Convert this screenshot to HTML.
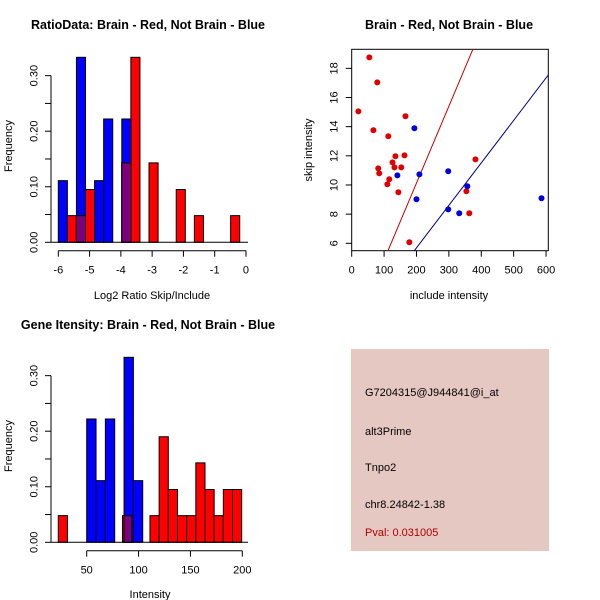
<!DOCTYPE html>
<html><head><meta charset="utf-8">
<style>
body{margin:0;background:#fff;}
svg{display:block;font-family:"Liberation Sans",Arial,sans-serif;}
</style></head>
<body>
<svg id="c" width="600" height="600" viewBox="0 0 600 600" xmlns="http://www.w3.org/2000/svg">
<rect width="600" height="600" fill="#fff"/>
<text x="148" y="29" font-size="12.5" font-weight="bold" text-anchor="middle">RatioData: Brain - Red, Not Brain - Blue</text>
<text x="449" y="29" font-size="12.5" font-weight="bold" text-anchor="middle">Brain - Red, Not Brain - Blue</text>
<text x="148" y="329" font-size="12.5" font-weight="bold" text-anchor="middle">Gene Itensity: Brain - Red, Not Brain - Blue</text>
<text x="152" y="299" font-size="11" text-anchor="middle">Log2 Ratio Skip/Include</text>
<text x="449" y="299" font-size="11" text-anchor="middle">include intensity</text>
<text x="150" y="598" font-size="11" text-anchor="middle">Intensity</text>
<text transform="translate(12,146) rotate(-90)" font-size="11" text-anchor="middle">Frequency</text>
<text transform="translate(12,446) rotate(-90)" font-size="11" text-anchor="middle">Frequency</text>
<text transform="translate(312,150) rotate(-90)" font-size="11" text-anchor="middle">skip intensity</text>
<g>
<rect x="351" y="349" width="198" height="202" fill="#e6c8c2"/>
<text x="365" y="396" font-size="11">G7204315@J944841@i_at</text>
<text x="365" y="435" font-size="11">alt3Prime</text>
<text x="365" y="471" font-size="11">Tnpo2</text>
<text x="365" y="508" font-size="11">chr8.24842-1.38</text>
<text x="365" y="536" font-size="11" fill="#b00000">Pval: 0.031005</text>
</g>
<g id="g1"></g><g id="g2"></g><g id="g3"></g>
</svg>
<script>
// Ratio histogram data (bin start, width 0.29)
const ratioBinStart = -6, ratioBinWidth = 0.29;
const ratioBlue = {0:0.111,2:0.333,4:0.111,5:0.222,7:0.222};
const ratioRed = {1:0.048,2:0.048,3:0.095,7:0.143,8:0.333,10:0.143,13:0.095,15:0.048,19:0.048};
const ratioXTicks = [-6,-5,-4,-3,-2,-1,0];
const freqTicks = [0,0.05,0.10,0.15,0.20,0.25,0.30];
const freqLabels = ["0.00","","0.10","","0.20","","0.30"];
// Intensity histogram data
const intBlueStart = 50, intBlueWidth = 9;
const intBlue = {0:0.222,1:0.111,2:0.222,4:0.333,5:0.111};
const intRedStart = 22.6, intRedWidth = 8.84;
const intRed = {0:0.048,7:0.048,10:0.048,11:0.190,12:0.095,13:0.048,14:0.048,15:0.143,16:0.095,17:0.048,18:0.095,19:0.095};
const intXTicks = [50,100,150,200];
// Scatter data
const redX = [54.5,79,20.6,166,67,113,135,163,126,132,153,82,85,116,110,144,178,382,354,363];
const redY = [18.75,17.04,15.05,14.71,13.75,13.34,11.97,12.03,11.55,11.21,11.21,11.14,10.8,10.39,10.05,9.5,6.07,11.76,9.57,8.06];
const blueX = [193.5,141,209,200,298,357,298,332,586];
const blueY = [13.89,10.66,10.73,9.02,10.94,9.91,8.33,8.06,9.09];
const redFit = [-0.41,0.0527];
const blueFit = [-0.14,0.02914];
const scXTicks = [0,100,200,300,400,500,600];
const scYTicks = [6,8,10,12,14,16,18];

const NS="http://www.w3.org/2000/svg";
function mk(parent,tag,attrs){const e=document.createElementNS(NS,tag);for(const k in attrs)e.setAttribute(k,attrs[k]);parent.appendChild(e);return e;}

function hist(g, x, y0, y, blueBins, blueStart, blueW, redBins, redStart, redW, xTicks, xAxisY, prefix){
  for(const k in redBins){const v=redBins[k];const a=redStart+k*redW;
    const r=mk(g,'rect',{x:x(a),y:y(v),width:x(a+redW)-x(a),height:y(0)-y(v),fill:'#ff0000',stroke:'#000','stroke-width':1});
    
    }
  for(const k in blueBins){const v=blueBins[k];const a=blueStart+k*blueW;
    const r=mk(g,'rect',{x:x(a),y:y(v),width:x(a+blueW)-x(a),height:y(0)-y(v),fill:'#0000ff',stroke:'#000','stroke-width':1});
    
    
    for(const j in redBins){const ra=redStart+j*redW, rb=ra+redW;
      const lo=Math.max(a,ra), hi=Math.min(a+blueW,rb);
      if(hi-lo>blueW*0.5){const m=Math.min(v,redBins[j]);
        const o=mk(g,'rect',{x:x(lo),y:y(m),width:x(hi)-x(lo),height:y(0)-y(m),fill:'#7f007f',stroke:'#000','stroke-width':1});
        
        }}
  }
  const ya=mk(g,'line',{x1:51,x2:51,y1:y(0),y2:y(0.3),stroke:'#000'});
  
  
  freqTicks.forEach((t,i)=>{mk(g,'line',{x1:45,x2:51,y1:y(t),y2:y(t),stroke:'#000'});
    if(freqLabels[i]){const tx=mk(g,'text',{transform:`translate(37.5,${y(t)}) rotate(-90)`,'font-size':11,'text-anchor':'middle'});tx.textContent=freqLabels[i];
      
      }});
  const xa=mk(g,'line',{x1:x(xTicks[0]),x2:x(xTicks[xTicks.length-1]),y1:xAxisY,y2:xAxisY,stroke:'#000'});
  
  
  xTicks.forEach(t=>{mk(g,'line',{x1:x(t),x2:x(t),y1:xAxisY,y2:xAxisY+6,stroke:'#000'});
    const tx=mk(g,'text',{x:x(t),y:xAxisY+23,'font-size':11,'text-anchor':'middle'});tx.textContent=t;
    
    });
  mk(g,'line',{x1:51,x2:248,y1:y(0),y2:y(0),stroke:'#000'});
}
const g1=document.getElementById('g1');
hist(g1, v=>58.3+(v+6)*31.28, 0, v=>242.3-v*555.5, ratioBlue, ratioBinStart, ratioBinWidth, ratioRed, ratioBinStart, ratioBinWidth, ratioXTicks, 250.7, 'ratio');
const g3=document.getElementById('g3');
hist(g3, v=>86.7+(v-50)*1.0373, 0, v=>542.3-v*555.5, intBlue, intBlueStart, intBlueWidth, intRed, intRedStart, intRedWidth, intXTicks, 550.7, 'intensity');

const g2=document.getElementById('g2');
const sx=v=>351.7+v*0.3239, sy=v=>243.3-(v-6)*14.58;
mk(g2,'clipPath',{id:'cp'});
mk(document.getElementById('cp'),'rect',{x:351.7,y:49.3,width:196.6,height:201.4});
const box=mk(g2,'rect',{x:351.7,y:49.3,width:196.6,height:201.4,fill:'none',stroke:'#000'});


[[redFit,'#cc0000','red-fit-line'],[blueFit,'#00008b','blue-fit-line']].forEach(([f,c,n])=>{
  const l=mk(g2,'line',{x1:sx(-10),y1:sy(f[0]+f[1]*-10),x2:sx(620),y2:sy(f[0]+f[1]*620),stroke:c,'stroke-width':1,'clip-path':'url(#cp)'});
  
  });
redX.forEach((v,i)=>{const p=mk(g2,'circle',{cx:sx(v),cy:sy(redY[i]),r:3,fill:'#e00000'});
  
  });
blueX.forEach((v,i)=>{const p=mk(g2,'circle',{cx:sx(v),cy:sy(blueY[i]),r:3,fill:'#0000e0'});
  
  });
scXTicks.forEach(t=>{mk(g2,'line',{x1:sx(t),x2:sx(t),y1:250.7,y2:256.7,stroke:'#000'});
  const tx=mk(g2,'text',{x:sx(t),y:273.7,'font-size':11,'text-anchor':'middle'});tx.textContent=t;
  
  });
scYTicks.forEach(t=>{mk(g2,'line',{x1:345.7,x2:351.7,y1:sy(t),y2:sy(t),stroke:'#000'});
  const tx=mk(g2,'text',{transform:`translate(337.5,${sy(t)}) rotate(-90)`,'font-size':11,'text-anchor':'middle'});tx.textContent=t;
  
  });
</script>
</body></html>
